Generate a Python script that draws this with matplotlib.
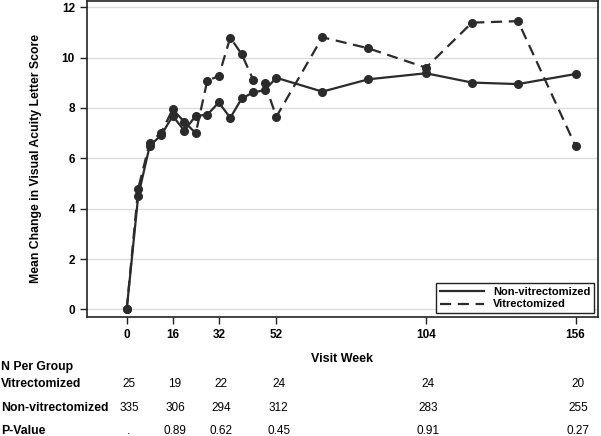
import numpy as np
import matplotlib
matplotlib.use("Agg")
import matplotlib.pyplot as plt
import matplotlib.transforms as mtransforms
from matplotlib.lines import Line2D

plt.rcParams["font.family"] = ["Liberation Sans", "DejaVu Sans"]

# Mean change in visual acuity letter score by visit week
weeks = [0, 4, 8, 12, 16, 20, 24, 28, 32, 36, 40, 44, 48, 52, 68, 84, 104, 120, 136, 156]
non_vit = [0, 4.5, 6.5, 6.92, 7.69, 7.1, 7.69, 7.73, 8.22, 7.61, 8.38, 8.62, 8.71,
           9.2, 8.65, 9.14, 9.38, 9.01, 8.95, 9.35]
vit = [0, 4.8, 6.62, 7.02, 7.95, 7.45, 7.0, 9.08, 9.27, 10.8, 10.13, 9.11, 8.98,
       7.65, 10.81, 10.37, 9.6, 11.39, 11.45, 6.49]

# Table under the plot
table_weeks = [0, 16, 32, 52, 104, 156]
n_vit = ["25", "19", "22", "24", "24", "20"]
n_nonvit = ["335", "306", "294", "312", "283", "255"]
p_values = [".", "0.89", "0.62", "0.45", "0.91", "0.27"]

W, H = 601, 436
fig = plt.figure(figsize=(W / 100, H / 100), dpi=100)
ax = fig.add_axes([86.7 / W, 1 - 316.7 / H, (597.7 - 86.7) / W, (316.7 - 1) / H])

line_color = "#2b2b2b"
ax.plot(weeks, non_vit, color=line_color, lw=1.6, ls="-",
        marker="o", ms=5.5, zorder=3)
ax.plot(weeks, vit, color=line_color, lw=1.6, ls=(0, (5, 3)),
        marker="o", ms=5.5, zorder=3)

ax.set_xlim(-13.9, 163.7)
ax.set_ylim(-0.29, 12.25)
ax.set_xticks(table_weeks)
ax.set_yticks(np.arange(0, 13, 2))
ax.yaxis.grid(True, color="#dddddd", lw=1)
ax.set_axisbelow(True)
for s in ax.spines.values():
    s.set_color("#222222")
    s.set_linewidth(1.2)
ax.tick_params(axis="both", length=5, width=1, color="#222222", labelsize=8.5)
for lab in ax.get_xticklabels() + ax.get_yticklabels():
    lab.set_fontweight("bold")

ax.set_ylabel("Mean Change in Visual Acuity Letter Score", fontsize=8.8, fontweight="bold")
ax.yaxis.set_label_coords(-0.0875, 0.5)
ax.set_xlabel("Visit Week", fontsize=9, fontweight="bold")
ax.xaxis.set_label_coords(0.5, -(353 - 316.7) / (316.7 - 1))

handles = [
    Line2D([], [], color=line_color, lw=1.6, ls="-"),
    Line2D([], [], color=line_color, lw=1.6, ls=(0, (5, 3))),
]
leg = ax.legend(handles, ["Non-vitrectomized", "Vitrectomized"], loc="lower right",
                prop={"size": 8, "weight": "bold"}, handlelength=4.0,
                fancybox=False, framealpha=1, edgecolor="#222222",
                borderaxespad=0.35, borderpad=0.3, labelspacing=0.25)
leg.get_frame().set_linewidth(1.0)

# Table of N per group and p-values
trans = mtransforms.blended_transform_factory(ax.transData, fig.transFigure)
rows = [("Vitrectomized", 384.3, n_vit),
        ("Non-vitrectomized", 408.3, n_nonvit),
        ("P-Value", 430.7, p_values)]
fig.text(0.002, 1 - 366.7 / H, "N Per Group", fontsize=8.8, fontweight="bold",
         ha="left", va="center")
for label, ypx, vals in rows:
    fig.text(0.002, 1 - ypx / H, label, fontsize=8.8, fontweight="bold",
             ha="left", va="center")
    for wk, v in zip(table_weeks, vals):
        ax.text(wk + 0.8, 1 - ypx / H, v, transform=trans, fontsize=8.5,
                ha="center", va="center", clip_on=False)

fig.savefig("out.png", dpi=100)
